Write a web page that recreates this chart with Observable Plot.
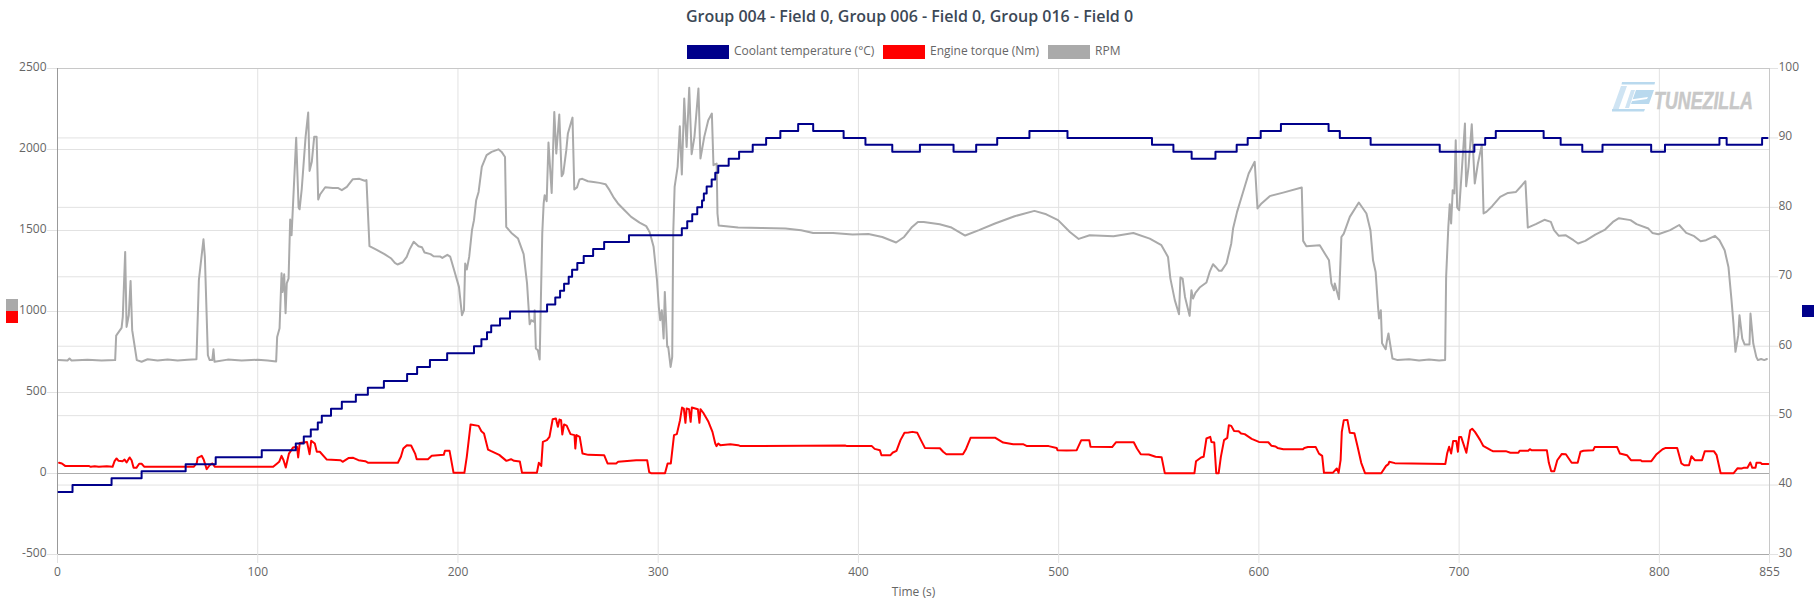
<!DOCTYPE html>
<html>
<head>
<meta charset="utf-8">
<script src="https://cdn.jsdelivr.net/npm/d3@7"></script>
<script src="https://cdn.jsdelivr.net/npm/@observablehq/plot@0.6"></script>
<style>
  html, body { margin: 0; padding: 0; background: #fff; width: 1819px; height: 600px; overflow: hidden; font-family: "Open Sans", sans-serif; }
  #wrap { position: relative; width: 1819px; height: 600px; }
  #title { height: 32px; line-height: 33px; text-align: center; font-size: 16px; font-weight: 600; color: #3c4856; }
  #legend { height: 28px; position: relative; font-size: 12px; color: #666; }
  #legend .box { position: absolute; top: 13px; height: 14px; width: 42px; }
  #legend .lab { position: absolute; top: 11px; line-height: 16px; white-space: nowrap; }
  .marker { position: absolute; width: 12px; height: 12px; }
  #chart svg { display: block; }
  #logo { position: absolute; left: 1600px; top: 70px; overflow: visible; }
</style>
</head>
<body>
<div id="wrap">
  <div id="title"></div>
  <div id="legend"></div>
  <div id="chart"></div>
  <div class="marker" style="left:6px;top:299px;background:#aaaaaa"></div>
  <div class="marker" style="left:6px;top:311px;background:#ff0000"></div>
  <div class="marker" style="left:1802px;top:305px;background:#00008b"></div>
  <svg id="logo" width="219" height="60" viewBox="0 0 219 60">
    <polygon points="22,12 55,12 54.5,14.5 21.5,14.5" fill="#b9d9ee"/>
    <polygon points="21,16 27,16 18,41 12,41" fill="#cfe4f3"/>
    <polygon points="12,39 45,39 44,41.5 12,41.5" fill="#b9d9ee"/>
    <polygon points="36,20 54,20 49,34 31,34" fill="#b9d9ee"/>
    <polygon points="27,30 48,27 47,29 26,32" fill="#ffffff"/>
    <polygon points="31,20 35,20 29,38 25,38" fill="#cfe4f3"/>
    <text x="54" y="39" font-family="Liberation Sans Narrow, Liberation Sans" font-weight="700" font-style="italic" font-size="23" fill="#c8c8c8" stroke="#c8c8c8" stroke-width="0.5" textLength="99" lengthAdjust="spacingAndGlyphs">TUNEZILLA</text>
  </svg>
</div>
<script>
const titleText = "Group 004 - Field 0, Group 006 - Field 0, Group 016 - Field 0";
const seriesNames = ["Coolant temperature (°C)", "Engine torque (Nm)", "RPM"];
const seriesColors = ["#00008b", "#ff0000", "#aaaaaa"];
const xTicks = [0, 100, 200, 300, 400, 500, 600, 700, 800, 855];
const leftTicks = [-500, 0, 500, 1000, 1500, 2000, 2500];
const rightTicks = [30, 40, 50, 60, 70, 80, 90, 100];

// coolant: time at which each reading starts, and its value (°C)
const coolantTime = [0.5, 7.5, 27, 42, 64, 79, 102, 119, 123, 126.5, 130, 132, 136.6, 142, 149, 155, 163, 174.6, 179.6, 186, 194.6, 208, 211.7, 214.5, 216.6, 221, 226, 244.5, 248.6, 251, 253, 255.3, 257, 259.6, 262.8, 267.5, 273, 285.4, 311.8, 314.5, 317, 319.5, 321.9, 322.8, 324.2, 326.7, 328.5, 330, 335.2, 340.4, 347.2, 353.9, 361, 369.9, 377.4, 392.6, 403.5, 416.9, 430.7, 447.5, 458.8, 469.3, 485.4, 504.4, 546.6, 557.3, 566.4, 578.3, 588.9, 594.4, 600.9, 611, 634.8, 640.4, 655.8, 690.3, 707.6, 713, 718.3, 742.2, 750.7, 761.5, 771.6, 795.9, 802.8, 830, 833.6, 851.3, 854];
const coolantValue = [39, 40, 41, 42, 43, 44, 45, 46, 47, 48, 49, 50, 51, 52, 53, 54, 55, 56, 57, 58, 59, 60, 61, 62, 63, 64, 65, 66, 67, 68, 69, 70, 71, 72, 73, 74, 75, 76, 77, 78, 79, 80, 81, 82, 83, 84, 85, 86, 87, 88, 89, 90, 91, 92, 91, 90, 89, 88, 89, 88, 89, 90, 91, 90, 89, 88, 87, 88, 89, 90, 91, 92, 91, 90, 89, 88, 89, 90, 91, 90, 89, 88, 89, 88, 89, 90, 89, 90, 90];

// engine torque: [time, Nm]
const torquePoints = [[0.8,66],[2.2,62],[3.8,47],[15.6,47],[16.6,41],[18.6,45],[20.6,41],[24.6,45],[27.5,41],[28.5,76],[29.5,93],[30.5,78],[32.5,76],[33.5,86],[34.5,68],[36,99],[37,82],[38,35],[39.4,35],[40.8,60],[42,60],[43.4,41],[68,41],[69.5,62],[70,97],[72,109],[73,86],[74.5,27],[76,51],[77.4,62],[78.6,41],[107.7,41],[109.7,62],[110.7,72],[111.9,109],[112.9,82],[114,37],[115.6,123],[117.6,160],[119.6,165],[120.2,99],[121,189],[124.6,195],[125.9,119],[126.7,202],[128.5,185],[129.5,134],[131,134],[134.5,86],[141.4,82],[142.4,72],[145.3,95],[147.7,97],[150.3,82],[153.7,76],[155.2,66],[170,66],[171.5,103],[172.7,154],[174.5,175],[176.6,173],[178.6,123],[179.4,88],[185,88],[186.9,109],[192.9,115],[193.5,140],[195.8,140],[197.8,4],[203.2,4],[204.4,103],[206.3,303],[210.3,294],[211.7,261],[213,247],[215,148],[216.6,138],[220.6,115],[224.2,78],[226.5,88],[228,78],[230.9,74],[232,4],[239.4,4],[240.4,66],[241.6,47],[242.4,195],[244.4,206],[245.7,226],[247.3,335],[248.9,340],[249.9,288],[250.7,333],[251.5,329],[252.1,241],[253,303],[254.3,296],[256.2,243],[258.2,237],[258.6,154],[259.2,237],[260.8,226],[262.2,123],[265.1,115],[273,113],[274.7,62],[279,62],[280,72],[289,82],[294.5,82],[295.5,8],[296.4,2],[303.4,2],[304.7,62],[306.3,62],[307.9,237],[309.3,243],[310.9,329],[311.9,407],[312.8,401],[313.6,313],[314.2,401],[315.4,397],[316.2,319],[316.8,407],[319.8,397],[320.6,313],[321.1,397],[322.5,375],[325.1,319],[327.1,257],[328.5,185],[329.1,169],[330,185],[331,175],[336,181],[339.9,175],[341.1,169],[393.3,173],[394.3,169],[406.7,169],[408.1,152],[410.7,144],[411.5,113],[416,113],[417,128],[419,140],[421,206],[423,251],[425,253],[427,257],[429.4,251],[431.2,206],[433.2,158],[440.7,156],[442.3,134],[443.9,119],[452.2,119],[453.6,148],[456,220],[468.4,220],[472.3,191],[477.3,181],[482.2,181],[484.2,169],[495,169],[499,158],[499.4,144],[504,142],[509,144],[511.3,206],[515.3,206],[515.9,165],[526.7,163],[528.7,193],[537.5,193],[539.1,154],[541,119],[545,117],[548.4,103],[551.4,101],[553,2],[567.8,2],[568.6,76],[571.1,99],[572.4,103],[573.8,216],[575.7,226],[576.3,195],[577.7,191],[578.7,2],[579.9,2],[581,103],[582.6,206],[584.2,220],[585,298],[586.2,294],[587.6,263],[589.9,261],[591.1,247],[592.9,243],[596.4,214],[600,195],[604.7,193],[606.3,171],[608.3,167],[609.3,158],[612.2,150],[622,150],[622.7,158],[624.5,163],[628.4,163],[630,123],[631.6,109],[632.5,4],[636.9,4],[638.9,31],[639.8,4],[640.8,82],[641.4,257],[642.4,329],[644.2,331],[645.4,251],[647.7,249],[649.3,165],[651.1,66],[653,2],[661.1,2],[663.5,47],[664.7,58],[665.1,72],[667.9,64],[693.1,58],[694,123],[695,165],[696,123],[697,200],[698.6,200],[699.4,134],[700,226],[701,226],[703.6,128],[705.5,267],[706.5,276],[707.9,257],[709.5,226],[710.5,206],[712,171],[715.8,144],[716.8,138],[723.3,138],[725.6,128],[729.6,128],[730.2,140],[734.5,140],[735.3,150],[736.1,144],[743.8,144],[744.8,66],[746,14],[747.5,14],[749,82],[751.3,121],[753.3,119],[756.2,66],[759.2,66],[760.6,134],[762.1,140],[767,144],[767.7,163],[778.9,163],[780.3,123],[783.8,113],[785.8,82],[790.7,82],[791.3,76],[796,76],[798.6,119],[801.6,150],[803.2,158],[808.9,158],[811,62],[812.4,51],[814.8,51],[816,107],[817.7,82],[821.3,82],[822.7,138],[827.2,138],[828.6,113],[830.6,2],[837.1,2],[839.1,33],[841,31],[842,35],[844,35],[845.4,68],[846.4,35],[848,35],[848.5,66],[850.5,66],[851.3,58],[854.4,58]];

// engine speed: [time, rpm]
const rpmPoints = [[0.5,700],[5,698],[6,710],[7,698],[15,702],[22,698],[28.8,700],[29.3,851],[32,899],[32.6,967],[33.8,1368],[34.5,905],[35.6,977],[36.5,1189],[37.3,885],[39.6,700],[42,690],[45,705],[50,697],[55,703],[60,697],[65,702],[69.4,705],[70.6,1193],[72.9,1446],[73.6,1337],[75.1,730],[76,700],[77.3,700],[77.9,767],[78.4,690],[85,703],[92,697],[100,702],[105,697],[109.2,692],[109.7,843],[110.9,897],[111.9,1236],[112.4,1121],[113.2,1230],[113.9,989],[114.5,1174],[115.4,1204],[116.2,1568],[116.9,1471],[119.2,2072],[120.4,1642],[120.9,1631],[122,1759],[123.9,2078],[125.2,2228],[125.9,1868],[127,1924],[128.2,2078],[129.4,2078],[130.2,1691],[131.2,1724],[133.7,1767],[137.5,1763],[140,1763],[142,1749],[144.5,1769],[147.5,1817],[150.8,1819],[153.4,1807],[154.3,1811],[155.8,1403],[159.2,1382],[163.3,1354],[166.7,1327],[168.5,1300],[169.8,1290],[172.4,1304],[174.4,1337],[175.8,1382],[177.9,1430],[180.3,1403],[182,1397],[183.3,1364],[186.3,1354],[187.8,1341],[191.2,1339],[192.2,1331],[194.7,1350],[196.1,1339],[198.1,1255],[200.5,1152],[202,977],[203,1008],[203.6,1296],[204.4,1259],[205.6,1337],[207,1502],[208,1564],[209.1,1687],[210.3,1738],[211.9,1893],[214.3,1965],[216.8,1985],[220.2,2001],[221.8,1985],[223.5,1954],[224.1,1522],[226.7,1485],[230,1450],[232.8,1354],[234.5,1173],[235.8,921],[236.6,946],[238.1,936],[238.3,1008],[238.9,772],[239.9,761],[240.8,704],[241.4,1070],[242.1,1483],[242.8,1668],[243.3,1718],[244.3,1681],[245.2,2043],[246.8,1732],[248.1,2232],[249.1,1975],[250.6,2216],[251.8,1835],[252.6,1852],[254.1,1996],[254.9,2099],[257.2,2197],[258.1,1753],[259.4,1765],[260.7,1815],[262.1,1819],[264.9,1804],[267.7,1800],[270.7,1794],[273.7,1786],[275.7,1749],[277.9,1701],[279.9,1667],[283.2,1625],[286.5,1584],[290.7,1549],[294,1527],[295.7,1491],[297.7,1399],[299.4,1193],[300.3,1029],[301,946],[301.8,1008],[302.7,833],[303.3,1121],[304.5,782],[305,782],[306.2,658],[307,720],[307.5,1481],[308.2,1769],[309.7,1893],[310.8,2144],[311.8,1846],[313,2315],[314.2,2016],[315.5,2381],[316.7,1971],[318.1,2078],[320.1,2377],[321.1,1944],[323,2078],[325,2181],[326.8,2222],[327.6,1903],[329.2,1913],[329.6,1605],[330.2,1531],[339.9,1518],[351.7,1516],[363.6,1512],[371.4,1502],[377.4,1485],[387.3,1485],[397.1,1475],[405,1478],[411.9,1460],[418.8,1426],[422.8,1460],[426.8,1522],[429.7,1553],[432.6,1553],[440.6,1539],[446.5,1518],[453.3,1469],[460.2,1502],[468.2,1543],[478,1588],[487.9,1621],[493.8,1600],[499.7,1564],[505.6,1491],[510,1448],[515.5,1471],[527.4,1465],[537.3,1485],[545.5,1450],[551.3,1409],[554.6,1337],[555.8,1203],[558,1070],[560.1,983],[560.8,1210],[561.9,1203],[563.1,1090],[565.4,973],[566.3,1131],[567.1,1080],[568.3,1115],[570.4,1148],[573.8,1179],[575.4,1244],[577.1,1292],[578.4,1275],[580.1,1251],[581.3,1251],[583.8,1296],[586.2,1420],[587.1,1512],[589.1,1615],[592.1,1738],[594.9,1852],[597.9,1924],[599.3,1636],[601.3,1667],[605.4,1712],[612.1,1734],[621.4,1765],[622.1,1436],[623.7,1403],[630.4,1409],[632.9,1358],[635,1316],[636.2,1173],[637.5,1131],[637.9,1173],[640,1076],[641.2,1460],[642.4,1481],[645.4,1584],[649.9,1673],[653.7,1605],[655.7,1502],[657,1316],[658.3,1244],[659.5,1028],[660,957],[660.9,1008],[661.5,804],[663.3,767],[664,823],[664.7,864],[666.7,710],[669.3,700],[675,705],[680,697],[685,703],[690,698],[693,700],[693.5,1213],[694.6,1522],[695.3,1662],[696,1543],[696.8,1749],[697.6,1729],[698.3,2057],[699,1642],[700,1625],[702.9,2160],[703.5,1773],[704.7,1893],[706.3,2156],[707.8,1790],[709.4,1915],[711.3,2027],[712.2,1605],[713.6,1615],[716.5,1650],[720.5,1707],[724.4,1732],[728.4,1738],[731.3,1778],[733.1,1804],[734.3,1518],[738.3,1539],[742.6,1566],[745.8,1553],[747.4,1502],[749.8,1467],[753.1,1471],[757.1,1440],[759.4,1420],[763,1436],[768,1475],[772.9,1506],[776.8,1553],[779.8,1576],[785.6,1564],[788.6,1539],[794.5,1512],[796.5,1485],[799.5,1477],[805.4,1502],[809.9,1534],[813.4,1485],[817.4,1465],[820.6,1434],[823.3,1440],[827.8,1467],[830,1440],[832.6,1378],[834.5,1275],[836,1075],[837,926],[838,751],[839.4,854],[840,977],[841.4,833],[842.6,796],[845,796],[845.5,987],[846.9,802],[848.4,720],[849.2,700],[850.8,707],[852.4,700],[853.7,707]];

const gridColor = "#e2e2e2";
const tempToLeft = c => (c - 30) / 70 * 3000 - 500;
const leftToTemp = v => String(Math.round((v + 500) / 3000 * 70 + 30));

const coolantData = coolantTime.map((t, i) => ({t, v: tempToLeft(coolantValue[i])}));
const torqueData = torquePoints.map(([t, v]) => ({t, v}));
const rpmData = rpmPoints.map(([t, v]) => ({t, v}));

document.getElementById("title").textContent = titleText;
const legend = document.getElementById("legend");
const legendPos = [[687, 734], [883, 930], [1048, 1095]];
seriesNames.forEach((name, i) => {
  const b = document.createElement("div");
  b.className = "box"; b.style.left = legendPos[i][0] + "px"; b.style.background = seriesColors[i];
  const l = document.createElement("div");
  l.className = "lab"; l.style.left = legendPos[i][1] + "px"; l.textContent = name;
  legend.append(b, l);
});

const chart = Plot.plot({
  width: 1819,
  height: 540,
  marginTop: 8,
  marginBottom: 46,
  marginLeft: 57,
  marginRight: 50,
  style: {fontFamily: "'Open Sans', sans-serif", fontSize: "12px", color: "#666", background: "transparent", overflow: "visible"},
  x: {domain: [0, 855]},
  y: {domain: [-500, 2500]},
  marks: [
    Plot.gridX(xTicks, {stroke: gridColor, strokeOpacity: 1}),
    Plot.ruleY(leftTicks, {stroke: gridColor}),
    Plot.ruleY(rightTicks.map(tempToLeft), {stroke: gridColor}),
    Plot.ruleY(leftTicks, {x1: -5, x2: 0, stroke: gridColor}),
    Plot.ruleY(rightTicks.map(tempToLeft), {x1: 855, x2: 859.5, stroke: gridColor}),
    Plot.ruleY([2500], {stroke: "#c8c8c8"}),
    Plot.ruleY([0], {stroke: "#aaaaaa"}),
    Plot.ruleY([-500], {stroke: "#aaaaaa"}),
    Plot.ruleX([0], {stroke: "#999999"}),
    Plot.ruleX([855], {stroke: "#c8c8c8"}),
    Plot.axisX({ticks: xTicks, tickSize: 9, tickPadding: 4, stroke: gridColor, fill: "#666", label: "Time (s)", labelAnchor: "center", labelArrow: "none", labelOffset: 41, tickFormat: d => String(d)}),
    Plot.axisY({ticks: leftTicks, anchor: "left", tickSize: 0, tickPadding: 11, dy: -1.5, fill: "#666", label: null, tickFormat: d => String(d)}),
    Plot.axisY({ticks: rightTicks.map(tempToLeft), anchor: "right", tickSize: 0, tickPadding: 9, dy: -1.5, fill: "#666", label: null, tickFormat: leftToTemp}),
    Plot.line(rpmData, {x: "t", y: "v", stroke: seriesColors[2], strokeWidth: 2, curve: "linear"}),
    Plot.line(torqueData, {x: "t", y: "v", stroke: seriesColors[1], strokeWidth: 2, curve: "linear"}),
    Plot.line(coolantData, {x: "t", y: "v", stroke: seriesColors[0], strokeWidth: 2, curve: "step-after"})
  ]
});
document.getElementById("chart").append(chart);
</script>
</body>
</html>
